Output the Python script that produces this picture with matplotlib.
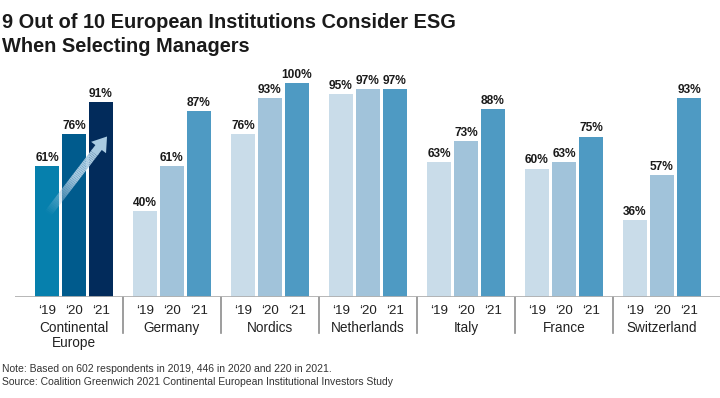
import numpy as np
import matplotlib.pyplot as plt
from matplotlib.patches import FancyArrowPatch

groups = ["Continental\nEurope", "Germany", "Nordics", "Netherlands", "Italy", "France", "Switzerland"]
years = ["\u201819", "\u201820", "\u201821"]
v19 = [61, 40, 76, 95, 63, 60, 36]
v20 = [76, 61, 93, 97, 73, 63, 57]
v21 = [91, 87, 100, 97, 88, 75, 93]

# first group has its own dark palette
ce_cols = ["#0680AD", "#005B8D", "#022B5B"]
other_cols = ["#C9DCE9", "#A1C3DA", "#4E9AC3"]
fam = ["Liberation Sans", "DejaVu Sans"]

fig = plt.figure(figsize=(7.2, 3.98), dpi=100)
ax = fig.add_axes([15/720, 1-297/398, 705/720, 214/398])

pitch = 27/98
width = 24/98
x = np.arange(len(groups))
series = [v19, v20, v21]
for j, vals in enumerate(series):
    pos = x + (j-1)*pitch
    cols = [ce_cols[j] if i == 0 else other_cols[j] for i in range(len(groups))]
    ax.bar(pos, vals, width=width, color=cols, zorder=2)
    for p, v in zip(pos, vals):
        ax.text(p, v+1.0, f"{v}%", ha="center", va="bottom", fontsize=8.6,
                fontweight="bold", family=fam, color="#1a1a1a")
    for p in pos:
        ax.text(p, -6.6, years[j], ha="center", va="center", fontsize=9.6,
                family=fam, color="#222222")

for i, g in enumerate(groups):
    ax.text(i, -11.2, g, ha="center", va="top", fontsize=9.8,
            family=fam, color="#222222", linespacing=1.05)

# group dividers
for i in range(len(groups)-1):
    ax.plot([i+0.5, i+0.5], [0, -17], color="#8c8c8c", lw=1.2, clip_on=False)

ax.axhline(0, color="#b0b0b0", lw=2, zorder=3)

# fading arrow over the first group
x0, y0 = -0.265, 39
x1, y1 = 0.337, 75
acol = "#A9CAE1"
n = 40
t = np.linspace(0, 0.8, n+1)
for k in range(n):
    xa = x0 + (x1-x0)*t[k]; xb = x0 + (x1-x0)*t[k+1]
    ya = y0 + (y1-y0)*t[k]; yb = y0 + (y1-y0)*t[k+1]
    ax.plot([xa, xb], [ya, yb], color=acol, lw=5.8, alpha=min(1, 0.02 + k/n*1.7),
            solid_capstyle="butt", zorder=4)
arr = FancyArrowPatch((x0 + (x1-x0)*0.79, y0 + (y1-y0)*0.79), (x1, y1),
                      arrowstyle="simple,head_length=1.0,head_width=1.35,tail_width=0.58",
                      mutation_scale=10, color=acol, lw=0, zorder=4, shrinkA=0, shrinkB=0)
ax.add_patch(arr)

ax.set_xlim(-(74-15)/98, (720-74)/98)
ax.set_ylim(0, 100)
ax.axis("off")

fig.text(2/720, 1-28/398, "9 Out of 10 European Institutions Consider ESG",
         ha="left", va="baseline", fontsize=14.4, fontweight="bold", family=fam, color="#1a1a1a")
fig.text(2/720, 1-52/398, "When Selecting Managers",
         ha="left", va="baseline", fontsize=14.4, fontweight="bold", family=fam, color="#1a1a1a")
fig.text(2/720, 1-369/398, "Note: Based on 602 respondents in 2019, 446 in 2020 and 220 in 2021.",
         ha="left", va="center", fontsize=7.5, family=fam, color="#333333")
fig.text(2/720, 1-382/398, "Source: Coalition Greenwich 2021 Continental European Institutional Investors Study",
         ha="left", va="center", fontsize=7.5, family=fam, color="#333333")

fig.savefig("out.png", dpi=100)
